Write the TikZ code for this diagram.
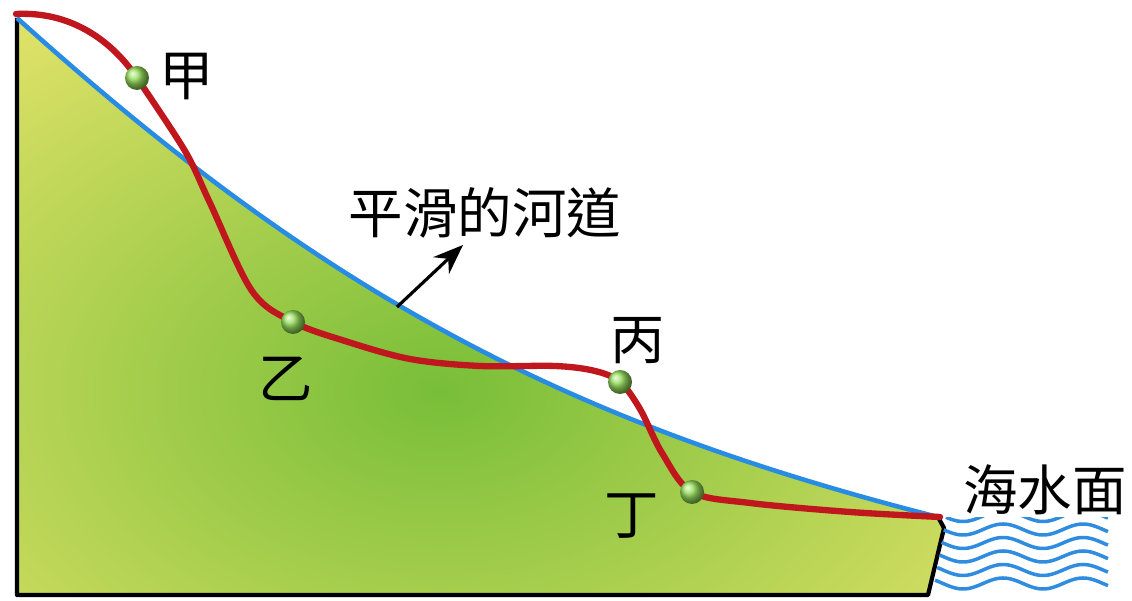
\documentclass[tikz,border=0pt]{standalone}
\usepackage{fontspec}
\newfontfamily\cjk{Noto Sans CJK TC}
\usetikzlibrary{arrows.meta}

\definecolor{landyellow}{RGB}{224,226,104}
\definecolor{landgreen}{RGB}{120,190,56}
\definecolor{riverred}{RGB}{192,22,30}
\definecolor{bedblue}{RGB}{40,140,228}
\definecolor{seablue}{RGB}{48,140,222}
\definecolor{spotgreen}{RGB}{150,222,90}

\begin{document}
\begin{tikzpicture}[>={Stealth[length=3mm,width=2.3mm]},line join=round]
    \tikzset{
        every node/.style={font=\cjk\fontsize{15.5}{18}\selectfont},
        outline/.style={line width=1.2pt,black},
        bedline/.style={line width=1.3pt,bedblue},
        riverline/.style={line width=1.8pt,riverred,line cap=round},
        spot/.style={circle,minimum size=0.24cm,inner sep=0pt,ball color=spotgreen},
        wave/.style={line width=1pt,seablue}
    }
    \useasboundingbox (0,0) rectangle (11.32,6.01);
    % land below the smooth bed, greener in the middle
    \begin{scope}
        \clip (0.17,5.83) .. controls (3.2,3.1) and (5.6,1.8) .. (9.38,0.84)
            -- (9.44,0.73) -- (9.28,0.06) -- (0.17,0.06) -- cycle;
        \fill[landyellow] (0,0) rectangle (9.5,6);
        \shade[inner color=landgreen,outer color=landyellow] (4.4,2.1) ellipse (7 and 4.6);
    \end{scope}
    \draw[outline] (9.38,0.84) -- (9.44,0.73) -- (9.28,0.06) -- (0.17,0.06) -- (0.17,5.83);
    \draw[bedline] (0.17,5.83) .. controls (3.2,3.1) and (5.6,1.8) .. (9.38,0.84);
    % sea
    \begin{scope}
        \clip (9.2,0) rectangle (11.32,0.83);
        \foreach \i in {0,...,5}
            {
                \draw[wave] plot[domain={9.46-0.022*\i}:11.08,samples=70,smooth]
                    (\x,{0.85-0.135*\i-0.055*cos(450*(\x-9.63))});
            }
    \end{scope}
    % the river with its steps
    \draw[riverline] (0.16,5.87) .. controls (0.75,5.90) and (1.15,5.56) .. (1.37,5.23)
        plot[smooth,tension=0.55] coordinates {
        (1.37,5.23) (1.85,4.50) (2.10,3.98)
        (2.52,3.10) (2.93,2.79) (3.45,2.60) (4.10,2.42) (4.80,2.35) (5.55,2.35)
        (5.95,2.30) (6.20,2.19) (6.40,1.92) (6.62,1.48) (6.92,1.09) (7.50,0.98)
        (8.50,0.89) (9.40,0.84)};
    \node[spot] (jia) at (1.37,5.23) {};
    \node[spot] (yi) at (2.93,2.79) {};
    \node[spot] (bing) at (6.20,2.19) {};
    \node[spot] (ding) at (6.92,1.09) {};
    \node (jialabel) at (1.87,5.24) {甲};
    \node (yilabel) at (2.86,2.22) {乙};
    \node (binglabel) at (6.38,2.60) {丙};
    \node (dinglabel) at (6.32,0.85) {丁};
    \node (sealabel) at (10.45,1.11) {海水面};
    \node (bedlabel) at (4.85,3.88) {平滑的河道};
    \coordinate (bank) at (3.97,2.94);
    \coordinate (tip) at (4.63,3.56);
    \draw[->,line width=0.9pt] (bank) -- (tip);
\end{tikzpicture}
\end{document}
